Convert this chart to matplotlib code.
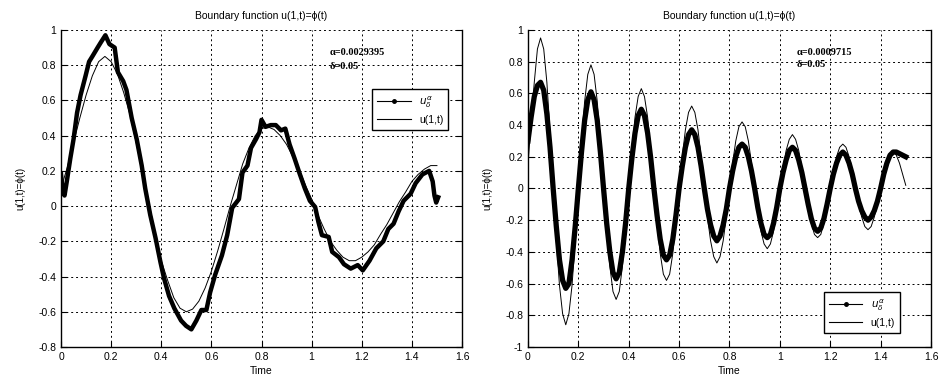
import numpy as np
import matplotlib
matplotlib.use("Agg")
import matplotlib.pyplot as plt
from matplotlib.lines import Line2D

plt.rcParams['font.family'] = ['Liberation Sans', 'DejaVu Sans']

# ---- left panel: exact boundary u(1,t) (step 0.025) ----
t_left = np.arange(61) * 0.025
u_left = [0.10, 0.22, 0.36, 0.50, 0.63, 0.74, 0.82, 0.85, 0.82, 0.75,
          0.645, 0.52, 0.36, 0.19, 0.02, -0.15, -0.31, -0.42, -0.52, -0.58,
          -0.60, -0.585, -0.54, -0.465, -0.37, -0.255, -0.13, 0.00, 0.12, 0.24,
          0.33, 0.40, 0.44, 0.45, 0.435, 0.40, 0.35, 0.28, 0.21, 0.12,
          0.04, -0.05, -0.13, -0.20, -0.25, -0.29, -0.31, -0.31, -0.29, -0.26,
          -0.22, -0.16, -0.105, -0.04, 0.025, 0.08, 0.14, 0.18, 0.21, 0.23, 0.23]

# ---- left panel: regularized solution (noisy) ----
t_left_reg = [0.0, 0.007, 0.014, 0.023, 0.037, 0.05, 0.064, 0.078, 0.098, 0.112,
              0.125, 0.146, 0.159, 0.177, 0.193, 0.214, 0.227, 0.248, 0.261, 0.282,
              0.302, 0.322, 0.336, 0.356, 0.377, 0.397, 0.411, 0.431, 0.452, 0.479,
              0.499, 0.52, 0.54, 0.56, 0.58, 0.595, 0.615, 0.642, 0.663, 0.683,
              0.71, 0.724, 0.744, 0.758, 0.778, 0.792, 0.8, 0.816, 0.837, 0.857,
              0.878, 0.895, 0.912, 0.932, 0.952, 0.973, 0.993, 1.014, 1.027, 1.041,
              1.068, 1.082, 1.109, 1.129, 1.156, 1.184, 1.204, 1.231, 1.258, 1.286,
              1.306, 1.327, 1.347, 1.367, 1.395, 1.415, 1.442, 1.469, 1.483, 1.49,
              1.497, 1.505]
u_left_reg = [0.18, 0.08, 0.06, 0.14, 0.27, 0.38, 0.53, 0.63, 0.74, 0.82,
              0.85, 0.90, 0.93, 0.97, 0.92, 0.90, 0.76, 0.71, 0.66, 0.50,
              0.38, 0.23, 0.10, -0.05, -0.18, -0.32, -0.41, -0.51, -0.58, -0.65,
              -0.68, -0.70, -0.65, -0.59, -0.59, -0.49, -0.39, -0.28, -0.165, -0.01,
              0.04, 0.19, 0.23, 0.33, 0.38, 0.42, 0.49, 0.45, 0.46, 0.46,
              0.43, 0.44, 0.35, 0.27, 0.185, 0.10, 0.03, -0.005, -0.09, -0.165,
              -0.175, -0.26, -0.29, -0.33, -0.355, -0.335, -0.365, -0.31, -0.24, -0.20,
              -0.13, -0.10, -0.03, 0.03, 0.07, 0.13, 0.18, 0.20, 0.14, 0.06,
              0.02, 0.05]

# ---- right panel (step 0.0125) ----
t_right = np.arange(121) * 0.0125
u_right = [0.15, 0.42, 0.67, 0.88, 0.95, 0.88, 0.67, 0.36, 0.0, -0.33, -0.61, -0.79, -0.86, -0.79, -0.61, -0.33,
           0.0, 0.30, 0.55, 0.72, 0.78, 0.72, 0.55, 0.30, 0.0, -0.27, -0.49, -0.65, -0.70, -0.65, -0.49, -0.27,
           0.0, 0.24, 0.45, 0.58, 0.63, 0.58, 0.45, 0.24, 0.0, -0.22, -0.41, -0.54, -0.58, -0.54, -0.41, -0.22,
           0.0, 0.20, 0.37, 0.48, 0.52, 0.48, 0.37, 0.20, 0.0, -0.18, -0.33, -0.43, -0.47, -0.43, -0.33, -0.18,
           0.0, 0.16, 0.30, 0.39, 0.42, 0.39, 0.30, 0.16, 0.0, -0.15, -0.27, -0.35, -0.38, -0.35, -0.27, -0.15,
           0.0, 0.13, 0.24, 0.31, 0.34, 0.31, 0.24, 0.13, 0.0, -0.12, -0.22, -0.29, -0.31, -0.29, -0.22, -0.12,
           0.0, 0.11, 0.20, 0.26, 0.28, 0.26, 0.20, 0.11, 0.0, -0.10, -0.18, -0.24, -0.26, -0.24, -0.18, -0.10,
           0.0, 0.09, 0.16, 0.21, 0.23, 0.21, 0.16, 0.09, 0.02]
u_right_reg = [0.30, 0.45, 0.58, 0.65, 0.67, 0.62, 0.47, 0.26, 0.0, -0.24, -0.45, -0.58, -0.63, -0.60, -0.45, -0.24,
               0.0, 0.23, 0.43, 0.56, 0.61, 0.56, 0.43, 0.23, 0.0, -0.22, -0.40, -0.53, -0.57, -0.53, -0.40, -0.22,
               0.0, 0.19, 0.35, 0.46, 0.50, 0.46, 0.35, 0.19, 0.0, -0.17, -0.32, -0.42, -0.45, -0.42, -0.32, -0.17,
               0.0, 0.14, 0.26, 0.34, 0.37, 0.34, 0.26, 0.14, 0.0, -0.13, -0.23, -0.30, -0.33, -0.30, -0.23, -0.13,
               0.0, 0.11, 0.20, 0.26, 0.28, 0.26, 0.20, 0.11, 0.0, -0.12, -0.22, -0.29, -0.31, -0.29, -0.22, -0.12,
               0.0, 0.10, 0.18, 0.24, 0.26, 0.24, 0.18, 0.10, 0.0, -0.10, -0.19, -0.25, -0.27, -0.25, -0.19, -0.10,
               0.0, 0.09, 0.16, 0.21, 0.23, 0.21, 0.16, 0.09, 0.0, -0.08, -0.14, -0.18, -0.20, -0.18, -0.14, -0.08,
               0.0, 0.09, 0.16, 0.21, 0.23, 0.23, 0.22, 0.21, 0.20]

xticks = [0, 0.2, 0.4, 0.6, 0.8, 1, 1.2, 1.4, 1.6]
xticklabels = ['0', '0.2', '0.4', '0.6', '0.8', '1', '1.2', '1.4', '1.6']
yticks_left = [-0.8, -0.6, -0.4, -0.2, 0, 0.2, 0.4, 0.6, 0.8, 1]
yticks_right = [-1, -0.8, -0.6, -0.4, -0.2, 0, 0.2, 0.4, 0.6, 0.8, 1]
notes_left = ['\u03b1=0.0029395', '\u03b4=0.05']
notes_right = ['\u03b1=0.0009715', '\u03b4=0.05']

fig = plt.figure(figsize=(9.52, 3.9), dpi=100)
ax1 = fig.add_axes([0.0641, 0.1103, 0.4212, 0.8128])
ax2 = fig.add_axes([0.5546, 0.1103, 0.4233, 0.8128])


def style(ax, yticks, ylim):
    ax.set_xlim(0, 1.6)
    ax.set_ylim(*ylim)
    ax.set_xticks(xticks)
    ax.set_xticklabels(xticklabels)
    ax.set_yticks(yticks)
    ax.set_yticklabels(['%g' % v for v in yticks])
    ax.tick_params(direction='in', length=4, labelsize=7.5, right=True, top=False)
    ax.grid(True, color='black', linestyle=(0, (2, 3)), linewidth=0.7)
    ax.spines['top'].set_visible(False)
    for s in ['left', 'right', 'bottom']:
        ax.spines[s].set_linewidth(1.0)
    ax.set_title('Boundary function u(1,t)=\u03d5(t)', fontsize=7.5, pad=8)
    ax.set_xlabel('Time', fontsize=7.5, labelpad=3)
    ax.set_ylabel('u(1,t)=\u03d5(t)', fontsize=7, labelpad=9)


reg_handle = Line2D([], [], color='black', lw=0.8, marker='.', markersize=5)
ex_handle = Line2D([], [], color='black', lw=0.8)
labels = [r'$u_\delta^\alpha$', 'u(1,t)']

# left
ax1.plot(t_left_reg, u_left_reg, color='black', lw=3.2, solid_joinstyle='round')
ax1.plot(t_left, u_left, color='black', lw=0.7)
style(ax1, yticks_left, (-0.8, 1))
ax1.text(1.07, 0.87, notes_left[0], fontsize=7.5, fontweight='bold',
         family='Liberation Serif', va='center')
ax1.text(1.07, 0.795, notes_left[1], fontsize=7.5, fontweight='bold',
         family='Liberation Serif', va='center')
leg1 = ax1.legend([reg_handle, ex_handle], labels, loc='upper left',
                  bbox_to_anchor=(0.3908, 0.7718), bbox_transform=fig.transFigure,
                  borderaxespad=0, fancybox=False, edgecolor='black', framealpha=1,
                  fontsize=7.5, handlelength=3.2, labelspacing=0.5, borderpad=0.5)
leg1.get_frame().set_linewidth(1.0)

# right
ax2.plot(t_right, u_right_reg, color='black', lw=3.8, solid_joinstyle='round')
ax2.plot(t_right, u_right, color='black', lw=0.7)
style(ax2, yticks_right, (-1, 1))
ax2.text(1.068, 0.86, notes_right[0], fontsize=7.5, fontweight='bold',
         family='Liberation Serif', va='center')
ax2.text(1.068, 0.78, notes_right[1], fontsize=7.5, fontweight='bold',
         family='Liberation Serif', va='center')
leg2 = ax2.legend([reg_handle, ex_handle], labels, loc='upper left',
                  bbox_to_anchor=(0.8655, 0.2513), bbox_transform=fig.transFigure,
                  borderaxespad=0, fancybox=False, edgecolor='black', framealpha=1,
                  fontsize=7.5, handlelength=3.2, labelspacing=0.5, borderpad=0.5)
leg2.get_frame().set_linewidth(1.0)

fig.savefig('out.png', dpi=100)
